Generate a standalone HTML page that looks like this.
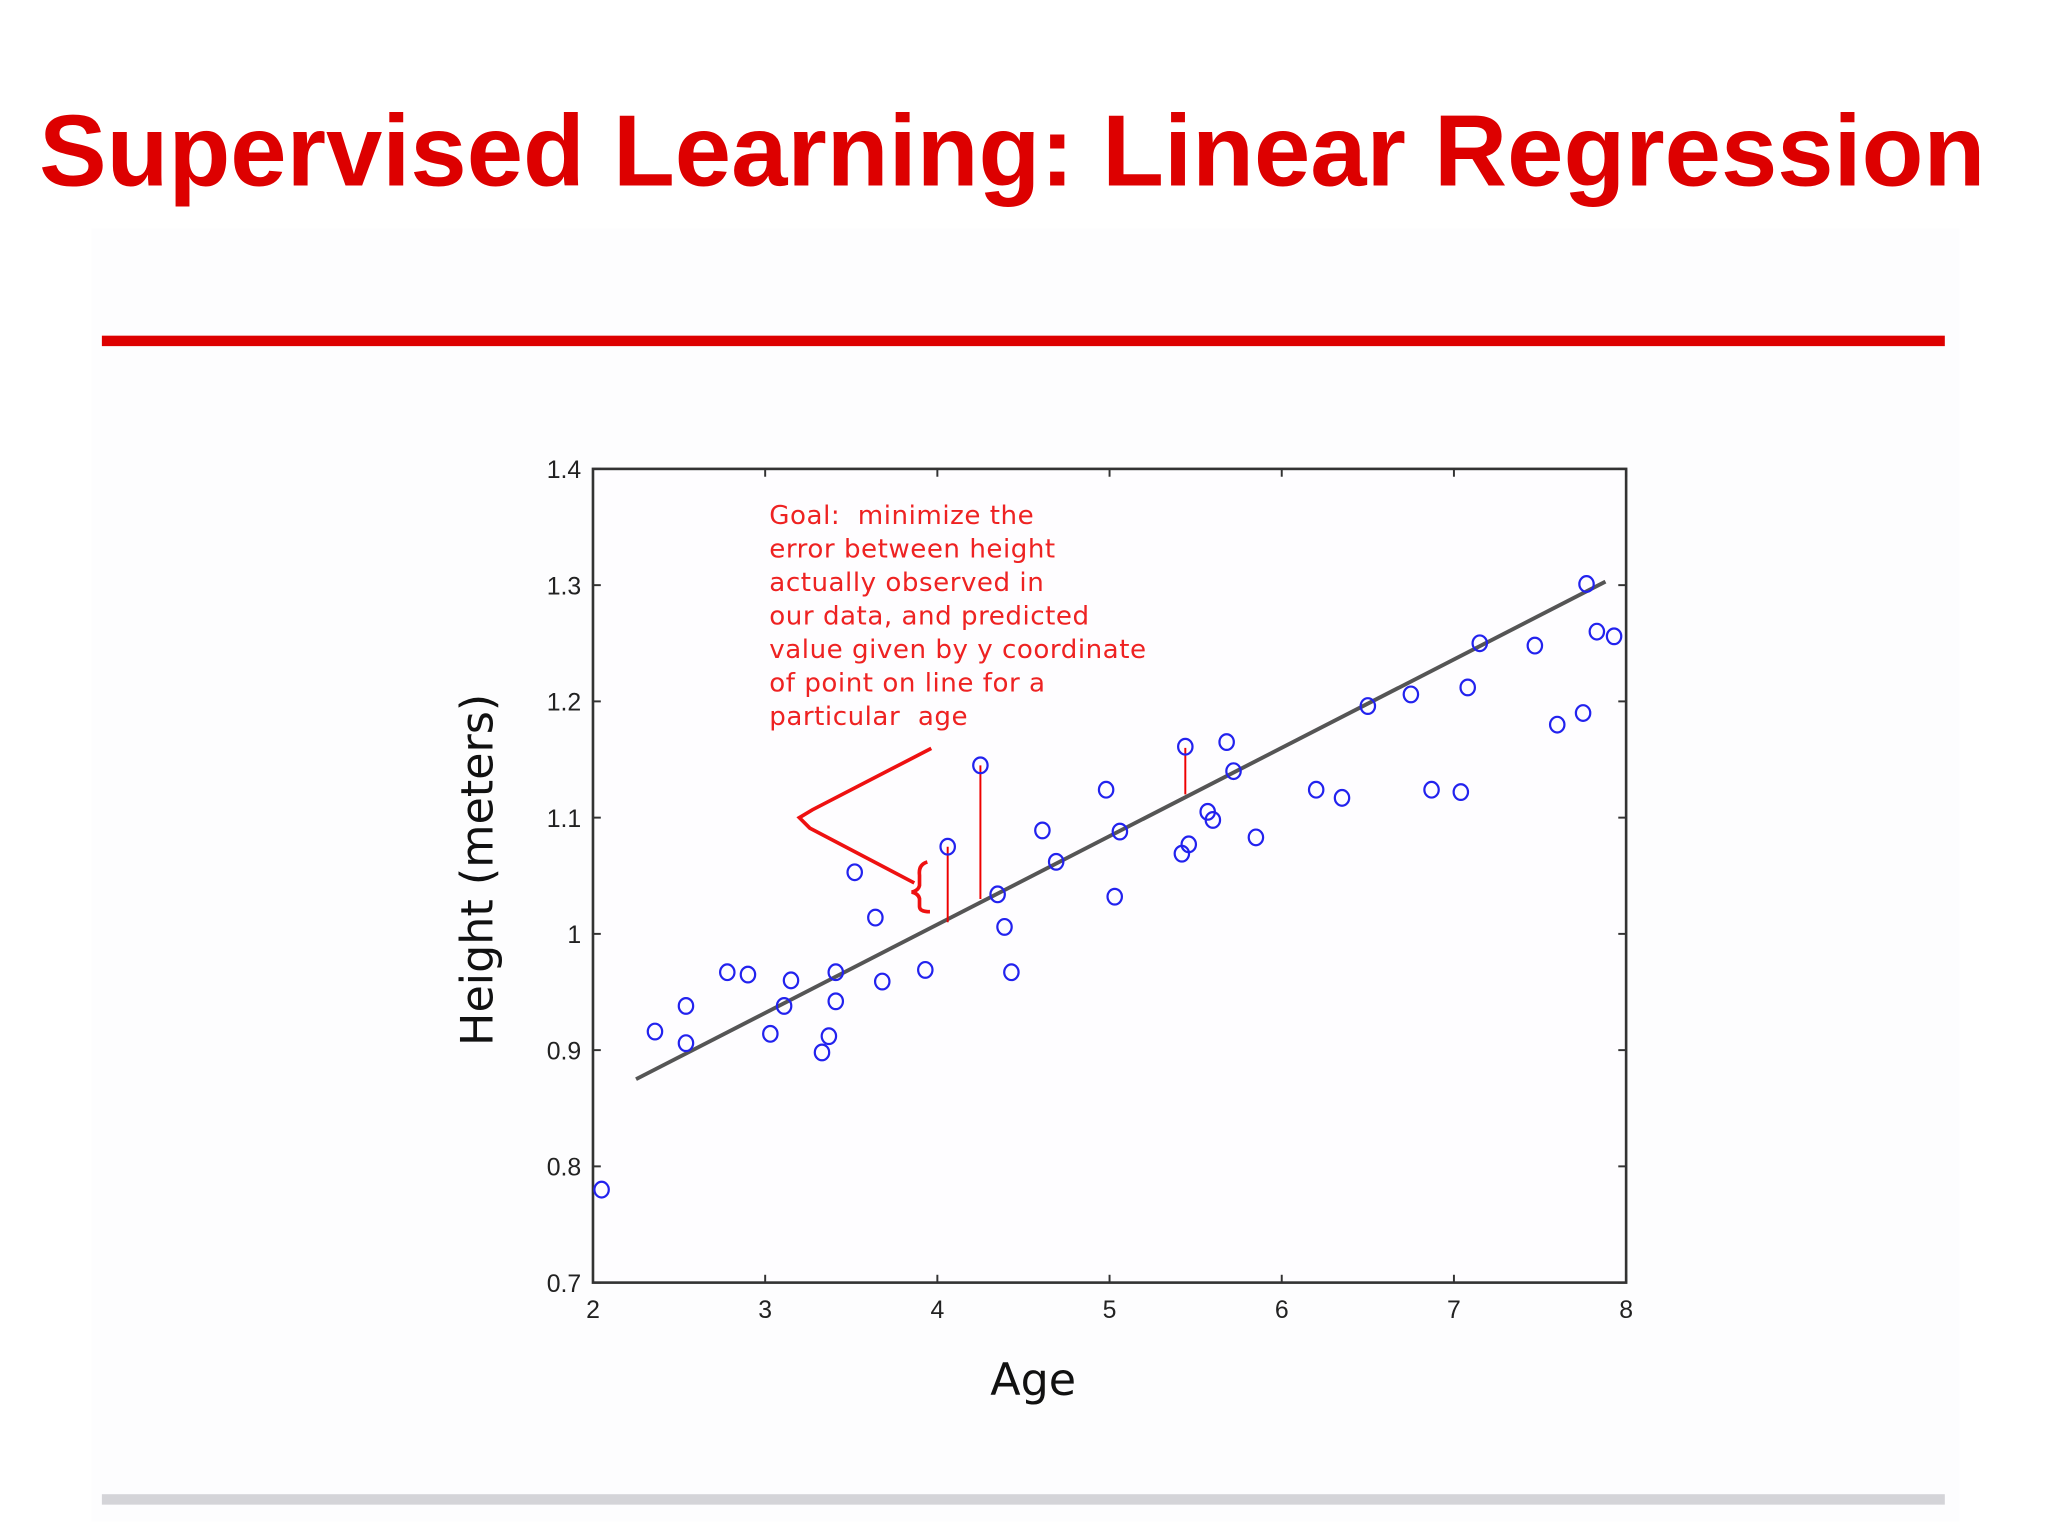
<!DOCTYPE html>
<html><head><meta charset="utf-8"><style>
html,body{margin:0;padding:0;background:#fff;}
svg{display:block;}
</style></head><body>
<svg width="2048" height="1536" viewBox="0 0 1568 1176" xmlns="http://www.w3.org/2000/svg">
<rect x="0" y="0" width="1568" height="1176" fill="#ffffff"/>
<rect x="70" y="175" width="1430" height="990" fill="#fdfdfe"/>
<text x="775" y="142" text-anchor="middle" font-family="Liberation Sans, sans-serif" font-weight="bold" font-size="77.5" fill="#dd0000">Supervised Learning: Linear Regression</text>
<rect x="78" y="257" width="1411" height="8" fill="#dd0000"/>
<rect x="78" y="1144" width="1411" height="8" fill="#d4d4d8"/>
<g id="chart"></g>
</svg>
<script>
const ages=[2.05,2.36,2.54,2.54,2.78,2.9,3.03,3.11,3.15,3.33,3.37,3.41,3.41,3.52,3.64,3.68,3.93,4.06,4.25,4.35,4.39,4.43,4.61,4.69,4.98,5.03,5.06,5.42,5.44,5.46,5.57,5.6,5.68,5.72,5.85,6.2,6.35,6.5,6.75,6.87,7.04,7.08,7.15,7.47,7.6,7.75,7.77,7.83,7.93];
const heights=[0.78,0.916,0.938,0.906,0.967,0.965,0.914,0.938,0.96,0.898,0.912,0.942,0.967,1.053,1.014,0.959,0.969,1.075,1.145,1.034,1.006,0.967,1.089,1.062,1.124,1.032,1.088,1.069,1.161,1.077,1.105,1.098,1.165,1.14,1.083,1.124,1.117,1.196,1.206,1.124,1.122,1.212,1.25,1.248,1.18,1.19,1.301,1.26,1.256];
const fitX=[2.25,7.88];
const fitY=[0.875,1.303];
const resX=[4.06,4.25,5.44];
const resTop=[1.075,1.145,1.16];
const resBot=[1.01,1.03,1.12];
const xTicks=[2,3,4,5,6,7,8];
const yTicks=[0.7,0.8,0.9,1,1.1,1.2,1.3,1.4];
const yTickLabels=["0.7","0.8","0.9","1","1.1","1.2","1.3","1.4"];

const NS="http://www.w3.org/2000/svg";
const L=454,R=1245,T=359,B=982;
const sx=v=>L+(v-2)/6*(R-L);
const sy=v=>B-(v-0.7)/0.7*(B-T);
const g=document.getElementById('chart');
function mk(tag,a){const e=document.createElementNS(NS,tag);for(const k in a)e.setAttribute(k,a[k]);g.appendChild(e);return e;}

let e=mk('rect',{x:L,y:T,width:R-L,height:B-T,fill:'#fefdff',stroke:'#333',"stroke-width":2});


xTicks.forEach(v=>{
 let t=mk('line',{x1:sx(v),x2:sx(v),y1:B,y2:B-6,stroke:'#333',"stroke-width":1.5});
 
 
 let t2=mk('line',{x1:sx(v),x2:sx(v),y1:T,y2:T+6,stroke:'#333',"stroke-width":1.5});
 
 
 let l=mk('text',{x:sx(v),y:B+27,"text-anchor":"middle","font-family":"Liberation Sans, sans-serif","font-size":19,fill:'#222'});
 l.textContent=v;
 
 
});
yTicks.forEach((v,i)=>{
 let t=mk('line',{x1:L,x2:L+6,y1:sy(v),y2:sy(v),stroke:'#333',"stroke-width":1.5});
 
 
 let t2=mk('line',{x1:R,x2:R-6,y1:sy(v),y2:sy(v),stroke:'#333',"stroke-width":1.5});
 
 
 let l=mk('text',{x:L-9,y:sy(v)+7,"text-anchor":"end","font-family":"Liberation Sans, sans-serif","font-size":19,fill:'#222'});
 l.textContent=yTickLabels[i];
 
 
});
let fl=mk('line',{x1:sx(fitX[0]),y1:sy(fitY[0]),x2:sx(fitX[1]),y2:sy(fitY[1]),stroke:'#555',"stroke-width":3});


resX.forEach((v,i)=>{
 let r=mk('line',{x1:sx(v),x2:sx(v),y1:sy(resTop[i]),y2:sy(resBot[i]),stroke:'#e00',"stroke-width":1.5});
 
 
});
ages.forEach((a,i)=>{
 let c=mk('ellipse',{cx:sx(a),cy:sy(heights[i]),rx:5.5,ry:6,fill:'none',stroke:'#2222ee',"stroke-width":1.7});
 
 
});
let ann=mk('text',{x:589,y:401,"font-family":"DejaVu Sans, sans-serif","font-size":20,fill:'#ee2222',"letter-spacing":"0.4"});


["Goal:  minimize the","error between height","actually observed in","our data, and predicted","value given by y coordinate","of point on line for a","particular  age"].forEach((s,i)=>{
 const ts=document.createElementNS(NS,'tspan');ts.setAttribute('x',589);ts.setAttribute('dy',i?25.7:0);ts.style.whiteSpace='pre';ts.textContent=s;ann.appendChild(ts);
});
let ar=mk('path',{d:'M713 573 L622 620 L612 626 L620 634 L700 676 M710 660 Q703 662 704 670 L704 678 Q703 682 698 683 Q703 684 704 688 L704 694 Q704 698 712 698',fill:'none',stroke:'#ee1111',"stroke-width":2.8});


let xt=mk('text',{x:791,y:1068,"text-anchor":"middle","font-family":"DejaVu Sans, sans-serif","font-size":34,fill:'#111'});
xt.textContent='Age';


let yt=mk('text',{x:0,y:0,"text-anchor":"middle","font-family":"DejaVu Sans, sans-serif","font-size":34,fill:'#111',transform:'translate(377,666) rotate(-90)'});
yt.textContent='Height (meters)';


</script>
</body></html>
